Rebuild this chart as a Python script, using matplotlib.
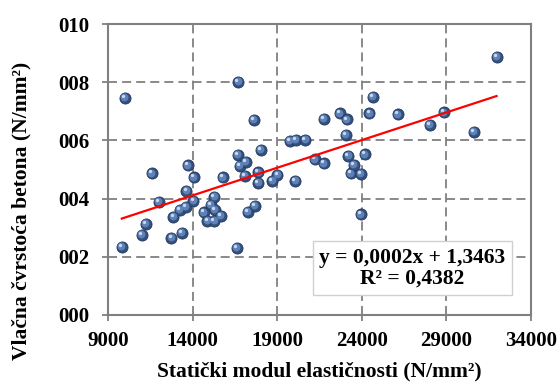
import numpy as np
import matplotlib
matplotlib.use('Agg')
import matplotlib.pyplot as plt
from matplotlib.transforms import ScaledTranslation

# modul elasticnosti (N/mm2) i vlacna cvrstoca
modul = [9810, 10005, 11010, 11250, 11600, 12010, 12740, 12860, 13260, 13350,
         13610, 13630, 13710, 14040, 14080, 14670, 14870, 15070, 15280, 15320,
         15280, 15660, 15780, 16600, 16680, 16700, 16800, 17100, 17160, 17250,
         17630, 17690, 17880, 17880, 18040, 18710, 19010, 19760, 20070, 20110,
         20660, 21230, 21770, 21770, 22710, 23050, 23110, 23200, 23340, 23540,
         23930, 23950, 24190, 24450, 24640, 26120, 28030, 28860, 30630, 31970]
cvrstoca = [2.35, 7.47, 2.75, 3.13, 4.87, 3.89, 2.65, 3.38, 3.61, 2.83,
            3.72, 4.27, 5.14, 3.92, 4.73, 3.53, 3.24, 3.78, 4.07, 3.61,
            3.23, 3.41, 4.73, 2.30, 5.50, 8.02, 5.13, 4.78, 5.27, 3.55,
            6.70, 3.75, 4.90, 4.53, 5.67, 4.62, 4.81, 5.98, 4.60, 6.01,
            6.01, 5.35, 5.21, 6.73, 6.93, 6.20, 6.72, 5.46, 4.87, 5.17,
            4.85, 3.46, 5.52, 6.93, 7.50, 6.90, 6.54, 6.97, 6.30, 8.88]

xticks = [9000, 14000, 19000, 24000, 29000, 34000]
yticks = [0, 2, 4, 6, 8, 10]
ylabels = ['000', '002', '004', '006', '008', '010']
jednadzba = 'y = 0,0002x + 1,3463\nR² = 0,4382'

plt.rcParams['font.family'] = ['Liberation Serif', 'DejaVu Serif']
plt.rcParams['font.weight'] = 'bold'

x = np.array(modul)
y = np.array(cvrstoca)

fig = plt.figure(figsize=(5.6, 3.83), dpi=100)
ax = fig.add_axes([0.193, 0.178, 0.755, 0.759])

# kuglice - slojevi za 3D izgled
ax.plot(x, y, 'o', ms=8, mfc='#34507c', mec='#243a5e', mew=0.6, zorder=3)
off1 = ax.transData + ScaledTranslation(-0.5/72, 0.5/72, fig.dpi_scale_trans)
ax.plot(x, y, 'o', ms=5.6, mfc='#5e82b8', mec='none', transform=off1, zorder=4)
off2 = ax.transData + ScaledTranslation(-1.3/72, 1.4/72, fig.dpi_scale_trans)
ax.plot(x, y, 'o', ms=2.4, mfc='#c9d8ee', mec='none', transform=off2, zorder=5)

# linearni trend
k, n = np.polyfit(x, y, 1)
xl = np.array([x.min(), x.max()])
ax.plot(xl, k*xl + n, color='red', lw=1.6, zorder=6)

ax.set_xlim(9000, 34000)
ax.set_ylim(0, 10)
ax.set_xticks(xticks)
ax.set_yticks(yticks)
ax.set_yticklabels(ylabels)
ax.tick_params(labelsize=15, colors='#808080', labelcolor='black', length=4.5, width=1.3)
ax.tick_params(axis='y', pad=9)
ax.tick_params(axis='x', pad=7)
for t in ax.get_xticklabels() + ax.get_yticklabels():
    t.set_fontweight('bold')
ax.grid(True, color='#808080', ls=(0, (5, 2.8)), lw=1.3)
ax.set_axisbelow(True)
for s in ax.spines.values():
    s.set_color('#808080')
    s.set_linewidth(1.5)

fig.text(0.571, 0.029, 'Statički modul elastičnosti (N/mm²)', ha='center', va='center',
         fontsize=15.5, fontweight='bold')
fig.text(0.0375, 0.449, 'Vlačna čvrstoća betona (N/mm²)', ha='center', va='center',
         rotation=90, fontsize=15.5, fontweight='bold')

ax.text(0.719, 0.160, jednadzba, transform=ax.transAxes, ha='center', va='center',
        fontsize=15.5, fontweight='bold', linespacing=1.05, zorder=7,
        bbox=dict(boxstyle='square,pad=0.3', fc='white', ec='#d0d0d0', lw=1))

fig.savefig('out.png', dpi=100)
